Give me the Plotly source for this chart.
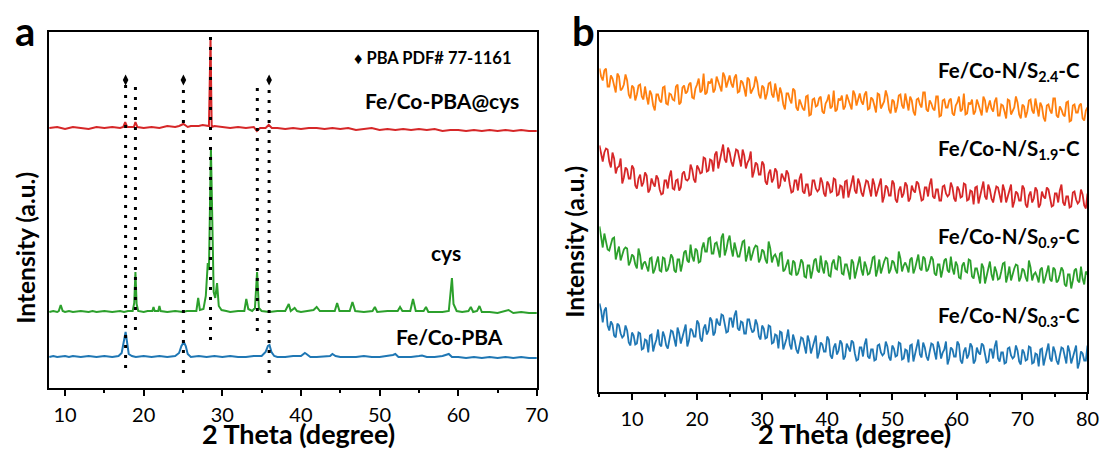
import numpy as np
import plotly.graph_objects as go

# ---------------- Panel a data: (2θ, intensity incl. stacking offset) ----------------
pba_cys_pts = [(8,260),(9,261),(10,259),(11,261),(12,260),(13,259),(14,261),(15,260),(16,261),(17,260),
               (17.4,261),(17.65,266),(17.9,261),(18.5,261),(18.75,261),(18.95,266),(19.2,261),
               (20,260),(21,261),(22,260),(23,262),(24,261),(24.5,262),(25.05,264),(25.6,261),
               (26,262),(27,262),(27.5,263),(28.3,262),(28.5,350),(28.65,261),(29,262),(30,261),
               (31,260),(32,261),(33,260),(34,261),(34.4,257),(34.8,260),(35.5,260),(35.9,263),
               (36.3,260),(37,260),(38,259),(39,260),(40,259),(41,260),(42,260),(43,259),(44,260),
               (45,259),(46,260),(47,258),(48,259),(49,260),(50,258),(51,259),(52,258),(53,259),
               (54,258),(55,259),(56,258),(57,259),(58,257),(59,258),(60,258),(61,257),(62,258),
               (63,257),(64,258),(65,257),(66,258),(67,257),(68,258),(69,257),(70,257)]

cys_pts = [(8,76),(8.5,77),(9,76),(9.2,77),(9.45,83),(9.7,77),(10,76),(10.5,77),(11,76),(12,77),
           (13,76),(13.5,77),(14,76),(15,77),(16,76),(17,77),(17.5,76),(18,77),(18.6,77),(18.8,85),
           (18.95,116),(19.1,84),(19.3,77),(20,76),(20.5,77),(21.1,77),(21.25,81),(21.4,77),
           (21.85,77),(22.0,82),(22.15,77),(23,76),(24,77),(25,76),(25.5,77),(26,77),(26.7,77),
           (26.93,90),(27.15,78),(27.6,79),(27.9,92),(28.15,125),(28.3,118),(28.55,240),(28.75,130),
           (28.9,96),(29.1,90),(29.33,105),(29.55,82),(29.9,78),(30.5,77),(31,76),(32,77),(32.8,77),
           (33.05,89),(33.3,79),(33.8,77),(34.15,80),(34.42,116),(34.65,80),(35,77),(36,76),(37,77),
           (38,77),(38.45,84),(38.7,77),(39.2,80),(39.5,77),(40,76),(41,77),(41.6,78),(42.0,81),
           (42.4,77),(43,77),(44.3,77),(44.6,85),(44.9,77),(46.2,77),(46.55,86),(46.9,77),(48,76),
           (49.1,77),(49.4,81),(49.7,76),(51,77),(52.3,77),(52.6,81),(52.9,77),(53.9,77),(54.25,89),
           (54.6,77),(55.6,77),(55.9,81),(56.2,76),(57,76),(58,76),(58.8,77),(59.05,95),(59.2,110),
           (59.4,84),(59.8,77),(60.5,76),(61.3,77),(61.6,81),(61.9,76),(62.4,77),(62.7,82),(63,76),
           (64,76),(65,75),(66.4,78),(67,75),(68,76),(69,75),(70,75)]

pba_pts = [(8,31),(8.5,32),(9,31),(10,32),(10.5,31),(11,32),(12,31),(13,32),(14,31),(15,32),(16,31),
           (16.8,32),(17.2,35),(17.5,46),(17.7,56),(17.9,45),(18.1,34),(18.5,32),(19,31),(20,32),
           (21,31),(22,32),(23,31),(24,32),(24.5,35),(24.8,42),(25.1,46),(25.35,42),(25.6,34),(26,31),
           (27,32),(28,31),(29,32),(30,31),(31,32),(32,31),(33,31),(34,32),(35,32),(35.5,36),(35.8,42),
           (36.0,43),(36.25,36),(36.6,32),(37,31),(38,31),(39,32),(40,32),(40.5,35),(40.7,34),(41.2,31),
           (42,31),(43,32),(43.7,32),(44.0,34),(44.4,32),(45,31),(46,31),(47,31),(48,32),(49,31),
           (50,31),(51,32),(51.7,33),(52.0,34),(52.4,31),(53,31),(54,31),(55,32),(55.4,32.5),(56,31),
           (57,31),(58,32),(58.5,33),(58.8,34),(59.2,31),(60,31),(61,30),(62,31),(63,30),(64,31),
           (65,30),(66,31),(67,30),(68,31),(69,30),(70,30)]

ref_lines_x = [17.7, 18.95, 25.05, 28.5, 34.45, 35.95]
ref_lines_top = [303, 301, 298, 351, 300, 298]
ref_lines_bottom = [15, 58, 15, 48, 54, 15]
pdf_marker_x = [17.7, 25.05, 35.95]
pdf_marker_y = [308, 308, 308]

# ---------------- Panel b data (values at 5, 5.5, ... 80 and at 5.25, 5.75, ... 79.75) ----------------
s24 = [323,311,323,305,313,299,315,303,317,297,306,291,306,295,305,287,297,281,297,289,
       305,287,297,291,307,289,306,300,309,293,307,299,318,299,308,299,315,305,319,304,
       316,304,317,300,309,295,312,301,315,297,306,292,308,297,308,290,298,282,298,288,
       301,281,288,281,296,277,293,286,295,278,291,283,301,282,291,282,297,287,301,286,
       298,287,300,283,292,279,297,286,301,282,292,279,296,286,298,281,291,276,293,284,
       299,280,288,281,295,276,292,284,293,276,289,280,298,278,287,277,292,281,295,279,
       291,280,294,276,286,273,291,280,295,277,287,274,291,281,293,275,285,270,287,278,
       293,274,282,275,290,271,287,279,288,271,284]
s24_mid = [315,321,305,316,307,318,301,307,311,293,304,297,307,292,295,301,286,297,291,304,
           288,298,292,305,287,304,298,307,294,303,313,301,297,310,313,302,310,300,315,309,
           308,314,299,311,303,314,298,305,309,293,304,298,309,294,298,304,287,298,292,303,
           284,292,283,295,276,292,285,293,280,288,297,285,280,293,296,285,292,282,297,291,
           290,297,282,294,286,298,283,290,295,278,290,285,297,283,288,295,280,292,287,299,
           282,291,283,295,275,291,284,291,278,286,295,282,277,289,292,280,287,276,291,284,
           283,290,276,287,280,292,277,284,289,273,285,280,292,278,283,289,274,286,281,293,
           276,285,277,289,270,286,279,286,273,281]

s19 = [246,230,243,230,239,218,225,208,224,213,226,206,213,205,219,199,213,205,213,197,
       211,203,221,202,212,204,220,211,227,212,226,218,234,220,232,220,240,231,247,229,
       239,225,242,231,242,223,232,214,229,217,230,210,218,209,223,203,218,210,218,199,
       211,201,218,198,207,197,211,200,214,198,210,199,213,196,206,193,211,201,216,198,
       208,195,211,201,213,195,205,189,206,196,211,192,201,194,209,190,206,199,208,191,
       204,195,213,193,202,191,206,195,209,193,205,194,208,191,201,187,205,195,210,192,
       202,189,205,195,207,189,199,184,200,191,206,187,196,189,204,184,200,193,202,185,
       198,189,207,186,195,185,200,188,202,186,198]
s19_mid = [237,239,242,224,233,224,233,214,222,213,223,203,217,209,216,202,208,216,202,198,
           211,215,203,211,201,218,212,213,222,209,223,219,233,221,231,237,223,236,232,244,
           230,234,241,225,236,229,240,220,227,217,227,207,222,213,220,206,213,221,207,200,
           211,213,200,207,196,211,203,202,209,195,207,200,212,197,205,210,194,206,201,213,
           199,204,210,195,207,201,213,195,204,196,208,189,205,198,206,193,201,210,197,192,
           204,207,195,202,191,205,198,197,204,190,202,195,207,192,200,204,188,200,195,207,
           193,198,204,189,201,195,207,190,198,191,203,184,200,193,201,187,195,204,191,186,
           198,201,189,195,184,199,192,190,197,183]

s09 = [165,144,150,141,153,132,145,137,144,126,137,127,143,122,130,120,134,122,135,120,
       133,122,137,121,132,120,139,131,147,130,141,130,149,140,154,138,149,134,158,142,
       156,135,143,135,150,130,145,138,146,129,142,132,150,129,137,125,139,122,132,117,
       129,118,132,115,126,113,131,121,136,118,128,115,132,122,134,117,127,112,129,120,
       135,116,125,118,134,115,132,125,134,118,131,122,140,120,129,119,134,123,137,121,
       133,122,135,118,127,114,131,121,135,117,126,113,129,119,131,113,123,108,124,115,
       130,111,120,113,128,109,125,118,127,110,123,114,131,111,119,109,124,113,126,110,
       122,111,124,107,117,103,121,111,125,107,117]
s09_mid = [152,158,142,148,154,139,131,142,143,130,135,123,136,128,126,133,118,129,121,134,
           120,128,134,119,132,128,141,129,135,143,129,143,140,153,138,148,142,154,136,151,
           143,149,135,142,151,137,131,143,145,133,140,128,143,135,133,138,120,127,118,131,
           116,124,129,114,126,121,133,119,124,131,116,128,123,135,118,127,120,132,113,129,
           122,130,117,125,135,122,118,130,133,122,129,118,133,126,125,132,118,130,123,135,
           120,128,132,116,127,122,133,119,123,130,114,126,120,132,115,123,116,128,108,124,
           117,125,112,120,129,116,111,123,126,114,121,110,124,117,115,122,108,120,112,124,
           109,117,121,105,117,111,123,109,113,120]

s03 = [88,69,84,61,67,54,66,54,66,49,59,47,59,42,52,39,57,47,62,45,
       55,43,61,51,64,48,59,45,63,55,71,53,63,57,74,56,73,66,76,59,
       73,64,81,61,69,58,72,59,72,55,66,53,66,48,57,43,59,48,62,42,
       51,38,54,44,56,38,48,33,49,40,55,36,44,37,51,32,48,40,49,31,
       44,35,53,33,42,32,47,36,50,34,46,35,49,32,42,29,47,37,52,34,
       44,31,48,38,50,33,42,27,44,35,50,31,40,33,48,28,44,37,46,29,
       42,33,51,30,39,29,44,33,46,30,42,31,45,28,38,25,43,33,48,30,
       40,27,44,34,46,28,38,23,40,31,46]
s03_mid = [81,81,66,70,56,68,58,56,61,46,56,48,58,43,51,56,40,52,47,60,
           46,52,60,45,58,54,67,51,61,55,68,50,67,61,71,59,68,77,65,60,
           73,76,63,70,58,72,64,61,67,52,63,54,65,49,56,60,42,53,47,57,
           42,47,53,38,50,44,56,39,47,40,52,33,48,41,48,35,43,51,38,32,
           44,47,35,42,31,46,39,38,45,31,43,36,48,33,41,46,30,42,37,49,
           35,40,47,32,44,39,50,33,42,35,47,28,44,37,45,31,39,48,35,30,
           42,45,33,39,28,43,36,35,41,27,39,32,44,29,37,42,26,38,33,45,
           31,36,43,28,40,34,46,29,38,31]

BLUE, ORANGE, GREEN, RED = "#1f77b4", "#ff7f0e", "#2ca02c", "#d62728"
FONT = "Lato"
W, H = 1116, 454

fig = go.Figure()

def add_pts(pts, color, width=2):
    fig.add_trace(go.Scatter(x=[p[0] for p in pts], y=[p[1] for p in pts], mode="lines",
                             line=dict(color=color, width=width), xaxis="x", yaxis="y",
                             showlegend=False, hoverinfo="skip"))

add_pts(pba_pts, BLUE)
add_pts(cys_pts, GREEN)
add_pts(pba_cys_pts, RED)

for xv, top, bot in zip(ref_lines_x, ref_lines_top, ref_lines_bottom):
    fig.add_trace(go.Scatter(x=[xv, xv], y=[top, bot], mode="lines",
                             line=dict(color="black", width=3, dash="3px,7px"),
                             xaxis="x", yaxis="y", showlegend=False, hoverinfo="skip"))

fig.add_trace(go.Scatter(x=pdf_marker_x, y=pdf_marker_y, mode="markers",
                         marker=dict(symbol="diamond-tall", size=8, color="black"),
                         xaxis="x", yaxis="y", showlegend=False, hoverinfo="skip"))

two_theta_b = np.arange(5, 80.001, 0.25)
def interleave(main, mid):
    out = []
    for i, v in enumerate(main):
        out.append(v)
        if i < len(mid):
            out.append(mid[i])
    return out

for main, mid, col in [(s03, s03_mid, BLUE), (s09, s09_mid, GREEN), (s19, s19_mid, RED), (s24, s24_mid, ORANGE)]:
    fig.add_trace(go.Scatter(x=two_theta_b, y=interleave(main, mid), mode="lines",
                             line=dict(color=col, width=1.8),
                             xaxis="x2", yaxis="y2", showlegend=False, hoverinfo="skip"))

def xaxis_cfg(domain, rng, anchor):
    return dict(domain=domain, range=rng, tick0=10, dtick=10, ticks="outside", ticklen=6,
                tickwidth=2, tickcolor="black", showline=True, linewidth=2, linecolor="black",
                mirror=True, showgrid=False, zeroline=False, anchor=anchor,
                tickfont=dict(family=FONT, size=20, color="black"), ticklabelstandoff=2,
                minor=dict(dtick=5, ticks="outside", ticklen=3, tickwidth=1.5, tickcolor="black"))

def yaxis_cfg(domain, rng, anchor):
    return dict(domain=domain, range=rng, showticklabels=False, ticks="", showline=True,
                linewidth=2, linecolor="black", mirror=True, showgrid=False, zeroline=False,
                anchor=anchor)

ya_dom = [(H - 388) / H, (H - 31.5) / H]
yb_dom = [(H - 391.5) / H, (H - 32) / H]

fig.update_layout(
    width=W, height=H, margin=dict(l=0, r=0, t=0, b=0),
    paper_bgcolor="white", plot_bgcolor="white",
    xaxis=xaxis_cfg([49.3 / W, 542.7 / W], [7.93, 70], "y"),
    yaxis=yaxis_cfg(ya_dom, [0, 356.5], "x"),
    xaxis2=xaxis_cfg([606 / W, 1099.3 / W], [5, 80], "y2"),
    yaxis2=yaxis_cfg(yb_dom, [0, 359.5], "x2"),
)

ann = []
def txt(text, x, y, size, xref="paper", yref="paper", angle=0):
    ann.append(dict(text=text, x=x, y=y, xref=xref, yref=yref, showarrow=False,
                    font=dict(family=FONT, size=size, color="black"), textangle=angle,
                    xanchor="center", yanchor="middle"))

# panel a texts
txt("<b>♦ PBA PDF# 77-1161</b>", 56.8, 330, 16.5, "x", "y")
txt("<b>Fe/Co-PBA@cys</b>", 57.9, 288, 21, "x", "y")
txt("<b>cys</b>", 58.4, 136, 21, "x", "y")
txt("<b>Fe/Co-PBA</b>", 58.9, 52, 21, "x", "y")
# panel b texts
for lab, yv in [("2.4", 320), ("1.9", 242), ("0.9", 154), ("0.3", 75)]:
    txt(f"<b>Fe/Co-N/S<sub>{lab}</sub>-C</b>", 68.0, yv, 20.5, "x2", "y2")

# panel letters
txt("<b>a</b>", 25 / W, (H - 31) / H, 40)
txt("<b>b</b>", 590 / W, (H - 31) / H, 40)
# axis titles
txt("<b>Intensity (a.u.)</b>", 25 / W, (H - 248) / H, 24.5, angle=-90)
txt("<b>Intensity (a.u.)</b>", 581 / W, (H - 242) / H, 24.5, angle=-90)
txt("<b>2 Theta (degree)</b>", 302 / W, (H - 433) / H, 27)
txt("<b>2 Theta (degree)</b>", 864 / W, (H - 433) / H, 27)

fig.update_layout(annotations=ann)
fig.write_html("out.html")
